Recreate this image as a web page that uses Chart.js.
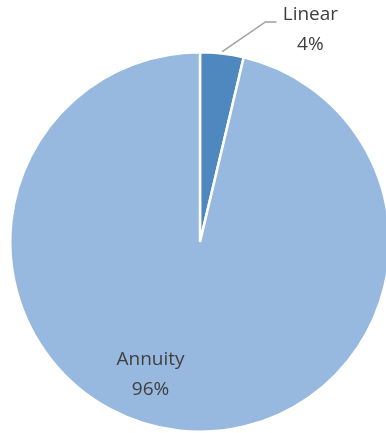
<!DOCTYPE html>
<html>
<head>
<meta charset="utf-8">
<script src="https://cdn.jsdelivr.net/npm/chart.js@4"></script>
<style>
  html, body { margin: 0; padding: 0; background: #fff; overflow: hidden; }
  #wrap { position: relative; width: 400px; height: 433px; }
</style>
</head>
<body>
<div id="wrap"><canvas id="myChart"></canvas></div>
<script>
// data
var labels = ["Linear", "Annuity"];
var values = [3.7, 96.3];
var colors = ["#4F87BF", "#98B9DF"];

// where each label sits: angle (deg, clockwise from top) and distance as part of radius
var labelPos = [
  { angle: 27.5, dist: 1.26, outside: true },
  { angle: 200.5, dist: 0.745, outside: false }
];

var total = values.reduce(function (a, b) { return a + b; }, 0);

var pieLabels = {
  id: "pieLabels",
  afterDatasetsDraw: function (chart) {
    var ctx = chart.ctx;
    var arcs = chart.getDatasetMeta(0).data;
    ctx.save();
    ctx.font = "19px 'Open Sans', sans-serif";
    ctx.fillStyle = "#404040";
    ctx.textAlign = "center";
    ctx.textBaseline = "middle";
    arcs.forEach(function (arc, i) {
      var p = labelPos[i];
      var a = (p.angle - 90) * Math.PI / 180;
      var r = arc.outerRadius * p.dist;
      var x = arc.x + Math.cos(a) * r;
      var y = arc.y + Math.sin(a) * r;
      var pct = Math.round(values[i] / total * 100) + "%";
      if (p.outside) {
        // leader line from the middle of the slice edge
        var mid = (arc.startAngle + arc.endAngle) / 2;
        var ex = arc.x + Math.cos(mid) * (arc.outerRadius + 2);
        var ey = arc.y + Math.sin(mid) * (arc.outerRadius + 2);
        ctx.strokeStyle = "#A0A0A0";
        ctx.lineWidth = 1.5;
        ctx.beginPath();
        ctx.moveTo(ex, ey);
        ctx.lineTo(x - 45, y - 8);
        ctx.lineTo(x - 34, y - 8);
        ctx.stroke();
      }
      ctx.fillText(labels[i], x, y - 15);
      ctx.fillText(pct, x, y + 15);
    });
    ctx.restore();
  }
};

new Chart("myChart", {
  type: "pie",
  data: {
    labels: labels,
    datasets: [
      {
        data: values,
        backgroundColor: colors,
        borderColor: "#ffffff",
        borderWidth: 2.5
      }
    ]
  },
  options: {
    responsive: true,
    maintainAspectRatio: false,
    animation: false,
    layout: { padding: { left: 9, right: 9, top: 51, bottom: 0 } },
    plugins: {
      legend: { display: false },
      tooltip: { enabled: false }
    }
  },
  plugins: [pieLabels]
});
</script>
</body>
</html>
